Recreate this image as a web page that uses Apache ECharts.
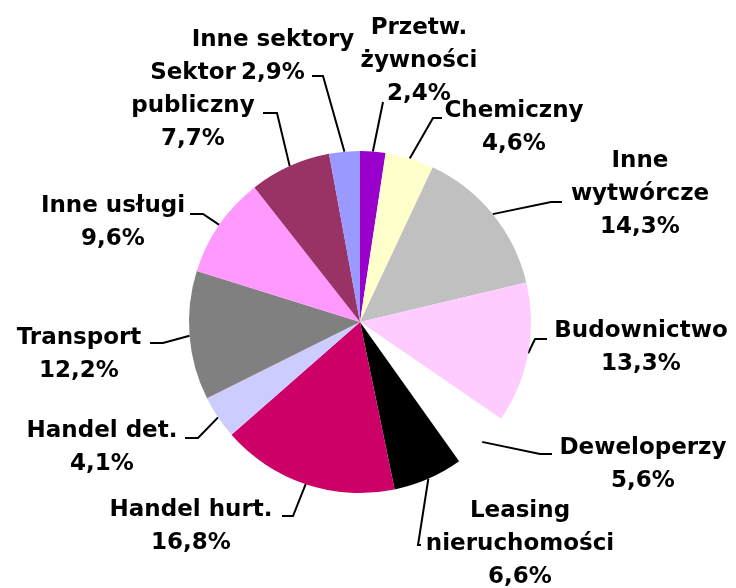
<!DOCTYPE html>
<html>
<head>
<meta charset="utf-8">
<script src="https://cdn.jsdelivr.net/npm/echarts@6/dist/echarts.min.js"></script>
<style>html,body{margin:0;padding:0;background:#fff}#c{width:736px;height:588px}</style>
</head>
<body>
<div id="c"></div>
<script>
// Data
var categories = ["Przetw.\nżywności", "Chemiczny", "Inne\nwytwórcze", "Budownictwo", "Deweloperzy",
  "Leasing\nnieruchomości", "Handel hurt.", "Handel det.", "Transport", "Inne usługi", "Sektor\npubliczny", "Inne sektory"];
var values = [2.4, 4.6, 14.3, 13.3, 5.6, 6.6, 16.8, 4.1, 12.2, 9.6, 7.7, 2.9];
var colors = ["#9900CC", "#FFFFCC", "#C0C0C0", "#FFCCFF", "#FFFFFF", "#000000",
  "#CC0066", "#CCCCFF", "#808080", "#FF99FF", "#993366", "#9999FF"];

// Label layout (positions only): [centerX, top]
var labelPos = [[419, 12], [514, 95], [640, 145], [641, 315], [643, 432], [520, 495],
  [191, 494], [102, 415], [79, 322], [113, 190], [193, 57], [273, 24]];
// Leader bends: [bendX, bendY, endX]
var lineBend = [[383, 102, 383], [433, 118, 442], [551, 202, 562], [535, 339, 547], [540, 454, 552],
  [418, 545, 421], [293, 516, 282], [198, 438, 185], [163, 343, 150], [203, 214, 190], [277, 113, 263], [323, 76, 312]];

var chart = echarts.init(document.getElementById('c'));
var data = categories.map(function (n, i) {
  return { name: n, value: values[i], itemStyle: { color: colors[i] } };
});
chart.setOption({
  animation: false,
  series: [{
    type: 'pie',
    center: [360, 322],
    radius: 171,
    startAngle: 90,
    clockwise: true,
    avoidLabelOverlap: false,
    data: data,
    itemStyle: { borderWidth: 0 },
    label: {
      show: true,
      position: 'outside',
      color: '#000',
      fontFamily: 'DejaVu Sans',
      fontWeight: 'bold',
      fontSize: 23,
      lineHeight: 33,
      formatter: function (p) {
        return p.name + '\n' + p.value.toFixed(1).replace('.', ',') + '%';
      }
    },
    labelLine: { show: true, lineStyle: { color: '#000', width: 2 } },
    emphasis: { disabled: true },
    labelLayout: function (params) {
      var i = params.dataIndex;
      var p = labelPos[i], b = lineBend[i];
      var pts = params.labelLinePoints;
      var start;
      if (pts && pts.length) {
        start = pts[0];
      } else {
        var lay = chart.getModel().getSeriesByIndex(0).getData().getItemLayout(i);
        var mid = (lay.startAngle + lay.endAngle) / 2;
        start = [lay.cx + lay.r * Math.cos(mid), lay.cy + lay.r * Math.sin(mid)];
      }
      return {
        x: p[0], y: p[1], align: 'center', verticalAlign: 'top',
        labelLinePoints: [start, [b[0], b[1]], [b[2], b[1]]]
      };
    }
  }]
});
</script>
</body>
</html>
